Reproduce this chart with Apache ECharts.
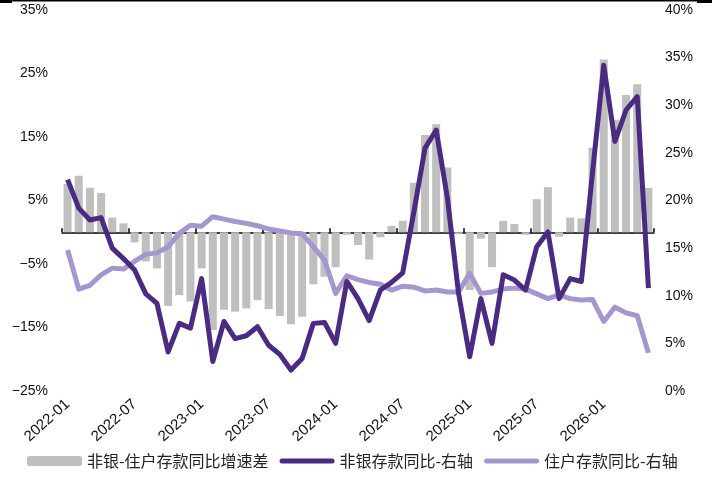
<!DOCTYPE html>
<html>
<head>
<meta charset="utf-8">
<script src="https://cdn.jsdelivr.net/npm/echarts@6/dist/echarts.min.js"></script>
<style>
html,body{margin:0;padding:0;background:#fff;}
#chart{width:723px;height:477px;}
</style>
</head>
<body>
<div id="chart"></div>
<script>
var categories = ['2022-01','2022-02','2022-03','2022-04','2022-05','2022-06','2022-07','2022-08','2022-09','2022-10','2022-11','2022-12',
'2023-01','2023-02','2023-03','2023-04','2023-05','2023-06','2023-07','2023-08','2023-09','2023-10','2023-11','2023-12',
'2024-01','2024-02','2024-03','2024-04','2024-05','2024-06','2024-07','2024-08','2024-09','2024-10','2024-11','2024-12',
'2025-01','2025-02','2025-03','2025-04','2025-05','2025-06','2025-07','2025-08','2025-09','2025-10','2025-11','2025-12',
'2026-01','2026-02','2026-03','2026-04','2026-05'];

var seriesNames = ['非银-住户存款同比增速差','非银存款同比-右轴','住户存款同比-右轴'];

// 非银-住户存款同比增速差 (left axis, %)
var diffValues = [7.6,8.9,7.0,6.2,2.3,1.4,-1.6,-4.6,-5.7,-11.6,-9.9,-10.9,
-5.7,-15.4,-12.2,-12.5,-12.0,-10.7,-12.1,-13.2,-14.5,-13.3,-8.2,-7.0,
-5.5,-0.4,-2.0,-4.3,-0.8,1.0,1.8,7.8,15.3,17.0,10.2,-0.3,
-9.1,-1.0,-5.5,1.8,1.3,-0.4,5.2,7.1,-0.7,2.3,2.2,13.3,
27.2,17.7,21.6,23.3,7.0];

// 非银存款同比 (right axis, %)
var nonBankValues = [22.2,19.2,17.95,18.2,15.0,13.9,12.7,10.2,9.2,4.1,7.1,6.6,
11.8,3.1,7.3,5.5,5.8,6.75,4.8,3.85,2.2,3.4,7.1,7.2,
5.0,11.5,9.7,7.4,10.6,11.4,12.4,18.8,25.5,27.4,20.3,10.3,
3.6,9.7,5.0,12.2,11.65,10.6,15.15,16.7,9.7,11.8,11.5,23.0,
34.2,26.2,29.5,30.9,10.8];

// 住户存款同比 (right axis, %)
var householdValues = [14.8,10.7,11.1,12.2,12.9,12.8,13.6,14.35,14.5,15.15,16.55,17.4,
17.3,18.3,18.05,17.8,17.6,17.35,17.0,16.8,16.6,16.5,15.15,13.75,
10.25,12.1,11.7,11.4,11.2,10.6,11.0,10.9,10.5,10.6,10.4,10.4,
12.35,10.25,10.4,10.7,10.8,10.7,10.2,9.7,10.1,9.7,9.55,9.6,
7.3,8.8,8.2,7.9,4.0];

var leftAxis = {min:-25, max:35, interval:10};
var rightAxis = {min:0, max:40, interval:5};

var numFont = 'Liberation Sans Narrow, Liberation Sans, Arial, sans-serif';
var cjkFont = 'Noto Sans CJK SC, sans-serif';
var lineIcon = 'path://M2.5,0 L52.5,0 A2.5,2.5 0 0 1 52.5,5 L2.5,5 A2.5,2.5 0 0 1 2.5,0 Z';

var chart = echarts.init(document.getElementById('chart'), null, {renderer:'canvas'});
chart.setOption({
  animation:false,
  backgroundColor:'#ffffff',
  graphic:[
    {type:'rect', left:0, top:0, shape:{width:712, height:1.5}, style:{fill:'#000'}},
    {type:'rect', left:0, top:0, shape:{width:12, height:3}, style:{fill:'#000'}},
    {type:'rect', left:697, top:0, shape:{width:15, height:3}, style:{fill:'#000'}}
  ],
  grid:{left:62, right:69, top:10, height:381, containLabel:false},
  legend:{
    left:27, top:453, padding:0, itemWidth:55, itemHeight:10, itemGap:11,
    symbolKeepAspect:true,
    textStyle:{fontFamily:cjkFont, fontSize:16, color:'#222'},
    data:[
      {name:seriesNames[0], icon:'roundRect'},
      {name:seriesNames[1], icon:lineIcon},
      {name:seriesNames[2], icon:lineIcon}
    ]
  },
  xAxis:[
    {type:'category', data:categories, boundaryGap:true,
     axisLine:{onZero:true, onZeroAxisIndex:0, lineStyle:{color:'#000', width:1.5}},
     axisTick:{show:true, interval:5, inside:true, length:4, lineStyle:{color:'#000', width:1.5}},
     axisLabel:{show:false}, splitLine:{show:false}},
    {type:'category', data:categories, boundaryGap:true, position:'bottom',
     axisLine:{show:false, onZero:false}, axisTick:{show:false},
     axisLabel:{show:true, interval:5, rotate:42, margin:11, fontFamily:numFont, fontSize:15, color:'#111'},
     splitLine:{show:false}}
  ],
  yAxis:[
    {type:'value', min:leftAxis.min, max:leftAxis.max, interval:leftAxis.interval, position:'left',
     axisLine:{show:false}, axisTick:{show:false}, splitLine:{show:false},
     axisLabel:{margin:14, fontFamily:numFont, fontSize:14, color:'#111',
       formatter:function(v){return (v<0?'\u2212'+Math.abs(v):v)+'%';}}},
    {type:'value', min:rightAxis.min, max:rightAxis.max, interval:rightAxis.interval, position:'right',
     axisLine:{show:false}, axisTick:{show:false}, splitLine:{show:false},
     axisLabel:{margin:11, fontFamily:numFont, fontSize:14, color:'#111', formatter:'{value}%'}}
  ],
  series:[
    {name:seriesNames[0], type:'bar', xAxisIndex:0, yAxisIndex:0, data:diffValues,
     barWidth:8, itemStyle:{color:'#BFBFBF'}, z:1},
    {name:seriesNames[2], type:'line', xAxisIndex:0, yAxisIndex:1, data:householdValues,
     symbol:'none', lineStyle:{color:'#A696CF', width:5, join:'round'}, itemStyle:{color:'#A696CF'}, z:2},
    {name:seriesNames[1], type:'line', xAxisIndex:0, yAxisIndex:1, data:nonBankValues,
     symbol:'none', lineStyle:{color:'#4B2A82', width:5, join:'round'}, itemStyle:{color:'#4B2A82'}, z:3}
  ]
});
</script>
</body>
</html>
